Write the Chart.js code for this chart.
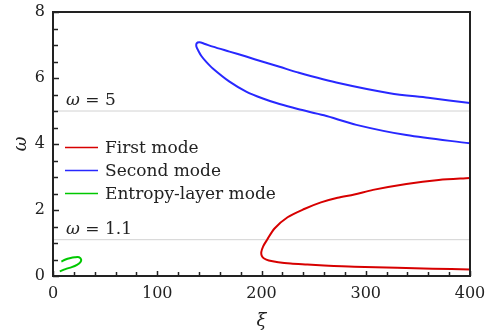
<!DOCTYPE html>
<html>
<head>
<meta charset="utf-8">
<script src="https://cdn.jsdelivr.net/npm/chart.js@4.4.0/dist/chart.umd.min.js"></script>
<style>
  body { margin: 0; background: #fff; }
  canvas { display: block; }
</style>
</head>
<body>
<canvas id="myChart" width="493" height="336"></canvas>
<script>
// data (xi, omega)
let firstXi = [400, 370, 339, 307, 289, 273, 257, 241, 225, 212.5, 205.4, 201.6, 199.8, 200.4, 202.5, 207, 216, 228, 244, 260, 289, 330, 364, 400]
let firstOmega = [2.97, 2.91, 2.79, 2.61, 2.47, 2.37, 2.23, 2.03, 1.78, 1.44, 1.1, 0.90, 0.72, 0.60, 0.53, 0.47, 0.42, 0.38, 0.35, 0.32, 0.28, 0.25, 0.22, 0.20]

let secondXi = [400, 360, 323, 275, 234.8, 217.3, 201.3, 185.3, 169.3, 153.3, 145, 140.5, 137.8, 137.6, 139.5, 142.5, 147, 153.3, 169.3, 185.3, 201.3, 217.3, 234.8, 260, 291, 339, 400]
let secondOmega = [5.24, 5.40, 5.54, 5.84, 6.17, 6.34, 6.49, 6.65, 6.80, 6.95, 7.04, 7.08, 7.05, 6.95, 6.82, 6.66, 6.49, 6.29, 5.89, 5.59, 5.38, 5.21, 5.06, 4.87, 4.58, 4.27, 4.02]

let entropyXi = [6.5, 12, 18, 23, 26.3, 27, 25, 21, 16, 12, 8]
let entropyOmega = [0.14, 0.21, 0.27, 0.34, 0.42, 0.5, 0.57, 0.57, 0.54, 0.50, 0.44]

let modeLabels = ['First mode', 'Second mode', 'Entropy-layer mode']
let modeColors = ['rgb(215, 0, 0)', 'rgb(40, 40, 255)', 'rgb(0, 200, 0)']

let refOmega = [5, 1.1]
let refLabels = ['5', '1.1']

let xMin = 0, xMax = 400, xStep = 100, xMinor = 20
let yMin = 0, yMax = 8, yStep = 2, yMinor = 0.5

function toPoints(xs, ys) {
    let pts = []
    xs.forEach((x, i) => { pts = [...pts, { x: x, y: ys[i] }] })
    return pts
}

let curves = [[firstXi, firstOmega], [secondXi, secondOmega], [entropyXi, entropyOmega]]
let datasets = curves.map((c, i) => ({
    label: modeLabels[i],
    data: toPoints(c[0], c[1]),
    borderColor: modeColors[i],
    backgroundColor: modeColors[i],
    borderWidth: 2,
    showLine: true,
    tension: 0.3,
    pointRadius: 0,
    order: 0
}))
refOmega.forEach(w => {
    datasets.push({
        label: 'ref',
        data: [{ x: xMin, y: w }, { x: xMax, y: w }],
        borderColor: 'rgb(210, 210, 210)',
        borderWidth: 1,
        showLine: true,
        pointRadius: 0,
        order: 2
    })
})

const serif = "'DejaVu Serif', serif"
const ink = '#222'

// inward ticks, frame, omega labels and legend
const decor = {
    id: 'decor',
    afterDatasetsDraw(chart) {
        const ctx = chart.ctx
        const a = chart.chartArea
        const xs = chart.scales.x, ys = chart.scales.y
        ctx.save()
        ctx.strokeStyle = ink
        ctx.lineWidth = 1.5
        for (let v = xMin; v <= xMax + 1e-6; v += xMinor) {
            let px = Math.round(xs.getPixelForValue(v)) + 0.5
            let len = v % xStep == 0 ? 5 : 4
            ctx.beginPath(); ctx.moveTo(px, a.bottom); ctx.lineTo(px, a.bottom - len); ctx.stroke()
        }
        for (let v = yMin; v <= yMax + 1e-6; v += yMinor) {
            let py = Math.round(ys.getPixelForValue(v)) + 0.5
            let len = v % yStep == 0 ? 6 : 5
            ctx.beginPath(); ctx.moveTo(a.left, py); ctx.lineTo(a.left + len, py); ctx.stroke()
        }
        ctx.lineWidth = 2
        ctx.strokeRect(a.left, a.top, a.right - a.left, a.bottom - a.top)

        // omega = ... labels
        ctx.fillStyle = ink
        ctx.textBaseline = 'alphabetic'
        refOmega.forEach((w, i) => {
            let px = xs.getPixelForValue(xMin) + 13
            let py = ys.getPixelForValue(w) - 6
            ctx.font = 'italic 17px ' + serif
            ctx.fillText('ω', px, py)
            let wd = ctx.measureText('ω').width
            ctx.font = '17px ' + serif
            ctx.fillText(' = ' + refLabels[i], px + wd, py)
        })

        // legend
        ctx.font = '17px ' + serif
        ctx.textBaseline = 'middle'
        ctx.lineWidth = 1.5
        modeLabels.forEach((lab, i) => {
            let y = 147.5 + i * 23
            ctx.strokeStyle = modeColors[i]
            ctx.beginPath(); ctx.moveTo(65, y); ctx.lineTo(98, y); ctx.stroke()
            ctx.fillStyle = ink
            ctx.fillText(lab, 105, y + 1)
        })
        ctx.restore()
    }
}

let myChart = new Chart(document.getElementById('myChart'), {
    type: 'scatter',
    data: { datasets: datasets },
    options: {
        responsive: false,
        animation: false,
        devicePixelRatio: 1,
        layout: { padding: { top: 12, right: 23, left: 0, bottom: 0 } },
        plugins: { legend: { display: false }, tooltip: { enabled: false } },
        scales: {
            x: {
                type: 'linear', min: xMin, max: xMax,
                afterFit: s => { s.height = 60; s.paddingLeft = 0; s.paddingRight = 0 },
                grid: { display: false, drawTicks: false },
                border: { display: false },
                ticks: { stepSize: xStep, padding: 8, color: ink, font: { family: serif, size: 16 } },
                title: { display: true, text: 'ξ', color: ink, padding: { bottom: 4 }, font: { family: serif, size: 18, style: 'italic' } }
            },
            y: {
                type: 'linear', min: yMin, max: yMax,
                afterFit: s => { s.width = 53; s.paddingTop = 0; s.paddingBottom = 0 },
                grid: { display: false, drawTicks: false },
                border: { display: false },
                ticks: { stepSize: yStep, padding: 8, color: ink, font: { family: serif, size: 16 } },
                title: { display: true, text: 'ω', color: ink, padding: { top: 11 }, font: { family: serif, size: 18, style: 'italic' } }
            }
        }
    },
    plugins: [decor]
})
</script>
</body>
</html>
